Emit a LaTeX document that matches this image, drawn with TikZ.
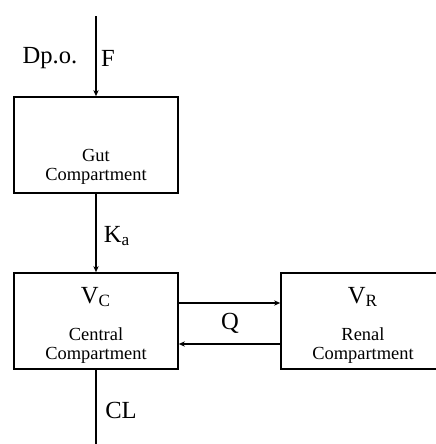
\documentclass[tikz,border=0pt]{standalone}
\usepackage{fontspec}
\setmainfont{Liberation Serif}
\usetikzlibrary{arrows.meta}

\tikzset{
  comp/.style={draw, line width=0.9pt, rectangle, minimum width=3.28cm, minimum height=1.92cm, inner sep=0pt},
  big/.style={font=\fontsize{14}{16}\selectfont, inner sep=0pt},
  small/.style={font=\fontsize{10.5}{12}\selectfont, inner sep=0pt},
  flow/.style={line width=0.9pt, -{Stealth[length=3.5pt,width=3pt]}}
}

\begin{document}
\begin{tikzpicture}[x=0.02cm, y=-0.02cm]
  \useasboundingbox (0,0) rectangle (436,444);

  % Gut compartment
  \node[comp] (gut) at (96,145) {};
  \node[small] (gutname) at (96,155) {Gut};
  \node[small] (gutcomp) at (96,176) {Compartment};

  % Central compartment
  \node[comp] (central) at (96,321) {};
  \node[big] (vc) at (96,297) {V$_{\mathrm{C}}$};
  \node[small] (centname) at (96,334) {Central};
  \node[small] (centcomp) at (96,355) {Compartment};

  % Renal compartment
  \node[comp] (renal) at (363,321) {};
  \node[big] (vr) at (363,297) {V$_{\mathrm{R}}$};
  \node[small] (renname) at (363,334) {Renal};
  \node[small] (rencomp) at (363,355) {Compartment};

  % Dose and elimination
  \coordinate (dose) at (96,16);
  \coordinate (out) at (96,446);
  \draw[flow] (dose) -- (gut.north);
  \draw[flow] (gut.south) -- (central.north);
  \draw[line width=0.9pt] (central.south) -- (out);
  \draw[flow] (central.east |- 0,303) -- (renal.west |- 0,303);
  \draw[flow] (renal.west |- 0,344) -- (central.east |- 0,344);

  % Labels
  \node[big] (dpo) at (50,58) {Dp.o.};
  \node[big] (f) at (108,58) {F};
  \node[big] (ka) at (117,236) {K$_{\mathrm{a}}$};
  \node[big] (q) at (230,323) {Q};
  \node[big] (cl) at (121,410) {CL};
\end{tikzpicture}
\end{document}
